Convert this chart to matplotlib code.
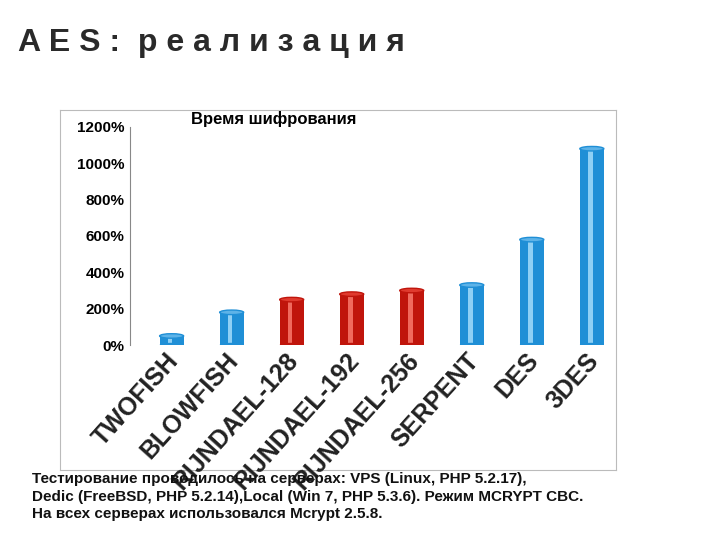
import matplotlib
matplotlib.use("Agg")
import matplotlib.pyplot as plt
from matplotlib.patches import Ellipse, Rectangle

# ── data ─────────────────────────────────────────────
algorithms = ["TWOFISH", "BLOWFISH", "RIJNDAEL-128", "RIJNDAEL-192",
              "RIJNDAEL-256", "SERPENT", "DES", "3DES"]
times_pct = [50, 180, 250, 280, 300, 330, 580, 1080]
is_aes = [False, False, True, True, True, False, False, False]
yticks = [0, 200, 400, 600, 800, 1000, 1200]

BLUE, BLUE_LIGHT, BLUE_TOP = "#1f8fd6", "#8fd0f5", "#5db3e8"
RED, RED_LIGHT, RED_TOP = "#c0150c", "#f06a5e", "#e03a2e"

plt.rcParams["font.family"] = ["Liberation Sans", "DejaVu Sans"]

fig = plt.figure(figsize=(7.2, 5.4), dpi=100)
fig.patch.set_facecolor("white")

fig.text(0.025, 0.905, "A E S :  р е а л и з а ц и я", fontsize=23,
         fontweight="bold", color="#2a2a2a")

# chart frame
frame = fig.add_axes([0.083, 0.13, 0.772, 0.667])
frame.set_xticks([]); frame.set_yticks([])
for s in frame.spines.values():
    s.set_color("#bbbbbb")

ax = fig.add_axes([0.18, 0.361, 0.667, 0.404])
ax.set_xlim(-0.7, 7.3)
ax.set_ylim(0, 1200)
ax.set_facecolor("none")
for s in ["top", "right", "bottom"]:
    ax.spines[s].set_visible(False)
ax.spines["left"].set_color("#888888")
ax.set_yticks(yticks)
ax.set_yticklabels([f"{v}%" for v in yticks], fontsize=11, fontweight="bold")
ax.tick_params(axis="y", length=0)
ax.set_xticks([])

w = 0.4
for i, (v, aes) in enumerate(zip(times_pct, is_aes)):
    c, cl, ct = (RED, RED_LIGHT, RED_TOP) if aes else (BLUE, BLUE_LIGHT, BLUE_TOP)
    ax.add_patch(Rectangle((i - w / 2, 0), w, v, facecolor=c, edgecolor="none"))
    ax.add_patch(Rectangle((i - w / 6, 0), w / 5, v, facecolor=cl, edgecolor="none"))
    ax.add_patch(Ellipse((i, v), w, 25, facecolor=ct, edgecolor=c, lw=1))
    ax.add_patch(Ellipse((i, 0), w, 25, facecolor=c, edgecolor="none"))
    ax.text(i - 0.1, -20, algorithms[i], rotation=48, ha="right", va="top",
            rotation_mode="anchor", fontsize=18, fontweight="bold", color="#222222")

ax.text(1.7, 1200, "Время шифрования", ha="center", va="bottom",
        fontsize=12, fontweight="bold")

fig.text(0.045, 0.04,
         "Тестирование проводилось на серверах: VPS (Linux, PHP 5.2.17),\n"
         "Dedic (FreeBSD, PHP 5.2.14),Local (Win 7, PHP 5.3.6). Режим MCRYPT CBC.\n"
         "На всех серверах использовался Mcrypt 2.5.8.",
         fontsize=11, fontweight="bold", linespacing=1.35, color="#111111")

fig.savefig("out.png", dpi=100)
